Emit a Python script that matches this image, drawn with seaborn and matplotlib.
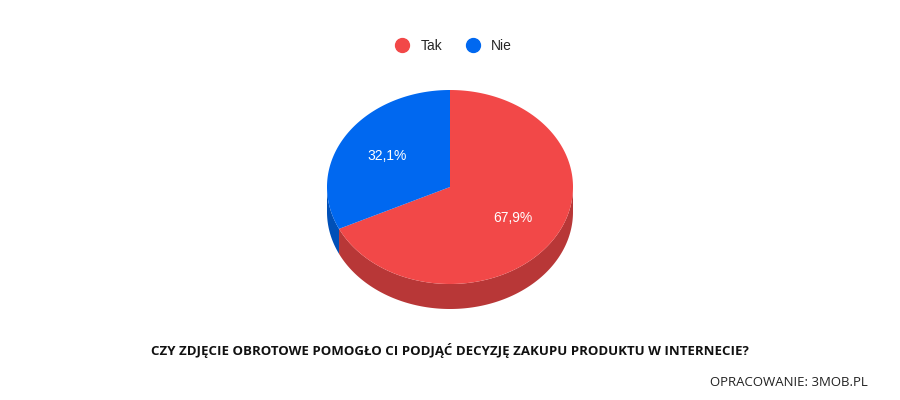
import numpy as np
import matplotlib
matplotlib.use("Agg")
import matplotlib.pyplot as plt
import seaborn as sns
from matplotlib.patches import Polygon
from matplotlib.lines import Line2D

labels = ["Tak", "Nie"]
values = [67.9, 32.1]
top_colors = ["#f24848", "#0068f0"]
side_colors = ["#b83737", "#0050b8"]
title = "CZY ZDJĘCIE OBROTOWE POMOGŁO CI PODJĄĆ DECYZJĘ ZAKUPU PRODUKTU W INTERNECIE?"
source = "OPRACOWANIE: 3MOB.PL"

sns.set_theme(style="white")
plt.rcParams["font.family"] = ["Open Sans", "DejaVu Sans"]

fig = plt.figure(figsize=(9, 4), dpi=100)
ax = fig.add_axes([0, 0, 1, 1])
ax.set_xlim(0, 900)
ax.set_ylim(400, 0)
ax.axis("off")

cx, cy, rx, ry, depth = 450, 187, 123, 97, 25


def pt(t, dy=0):
    return cx + rx * np.sin(t), cy - ry * np.cos(t) + dy


fracs = np.array(values) / sum(values)
starts = np.concatenate([[0], np.cumsum(fracs)[:-1]]) * 2 * np.pi
ends = np.cumsum(fracs) * 2 * np.pi

# side walls (visible front half: pi/2 .. 3pi/2)
for s, e, c in zip(starts, ends, side_colors):
    a, b = max(s, np.pi / 2), min(e, 3 * np.pi / 2)
    if a < b:
        t = np.linspace(a, b, 200)
        x, y = pt(t)
        x2, y2 = pt(t[::-1], depth)
        ax.add_patch(Polygon(np.column_stack([np.r_[x, x2], np.r_[y, y2]]),
                             closed=True, color=c, lw=0))
    # vertical edge at cut if on the front
    for edge in (s, e):
        if np.pi / 2 < edge < 3 * np.pi / 2:
            pass

# top faces
for s, e, c in zip(starts, ends, top_colors):
    t = np.linspace(s, e, 300)
    x, y = pt(t)
    poly = np.column_stack([np.r_[cx, x], np.r_[cy, y]])
    ax.add_patch(Polygon(poly, closed=True, color=c, lw=0))

# percentage labels
for s, e, v in zip(starts, ends, values):
    m = (s + e) / 2
    x, y = cx + 0.6 * rx * np.sin(m), cy - 0.6 * ry * np.cos(m)
    ax.text(x, y, f"{v:.1f}%".replace(".", ","), color="white", fontsize=10,
            ha="center", va="center", family=["Liberation Sans", "DejaVu Sans"])

handles = [Line2D([], [], marker="o", ls="", color=c, markersize=10) for c in top_colors]
ax.legend(handles, labels, loc="center", bbox_to_anchor=(0.5, 1 - 46 / 400), ncol=2,
          frameon=False, handletextpad=0.3, columnspacing=1.2,
          prop={"size": 10, "family": ["Liberation Sans", "DejaVu Sans"]})

ax.text(450, 350, title, ha="center", va="center", fontsize=9.5, fontweight="bold", color="#111111")
ax.text(868, 383, source, ha="right", va="center", fontsize=9.5, color="#222222")

fig.savefig("out.png", dpi=100, facecolor="white")
